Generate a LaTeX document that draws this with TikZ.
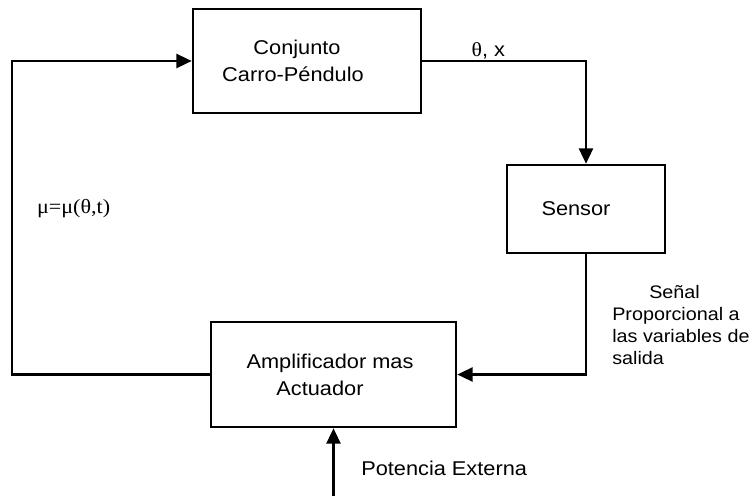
\documentclass[tikz,border=0pt]{standalone}
\usepackage{fontspec}
\setmainfont[FakeStretch=1.09]{Liberation Sans}
\newfontfamily\grk[FakeStretch=1.09]{Liberation Serif}
\usetikzlibrary{arrows.meta}

\begin{document}
\begin{tikzpicture}[line width=1.8pt,
	block/.style={draw, align=center, inner sep=0pt, font=\fontsize{14.2}{19}\selectfont},
	lbl/.style={inner sep=0pt, font=\fontsize{14.2}{19}\selectfont},
	flow/.style={-{Triangle[length=11pt, width=10pt]}, line join=miter}]
	\useasboundingbox (0, 0) rectangle (18.8, -12.4);
	\node [block, minimum width=5.7cm, minimum height=2.6cm] (plant) at (7.675, -1.525) {Conjunto\hspace*{0.5cm}\\Carro-Péndulo\hspace*{0.7cm}};
	\node [block, minimum width=3.95cm, minimum height=2.2cm] (sensor) at (14.65, -5.225) {Sensor\hspace*{0.5cm}};
	\node [block, minimum width=6.125cm, minimum height=2.625cm] (amp) at (8.3375, -9.3625) {Amplificador mas\hspace*{0.175cm}\\Actuador\hspace*{0.675cm}};
	\coordinate (left) at (0.3, 0);
	\coordinate (ext) at (8.3375, -12.4);
	\draw [flow] (plant.east) -| (sensor.north);
	\draw [flow] (sensor.south) |- (amp.east);
	\draw [flow] (amp.west) -- (amp.west -| left) |- (plant.west);
	\draw [flow] (ext) -- (amp.south);
	\node [lbl] (states) at (12.21, -1.275) {{\grk θ}, x};
	\node [lbl, font=\grk\fontsize{14.4}{19}\selectfont] (law) at (1.84, -5.225) {μ=μ(θ,t)};
	\node [lbl, anchor=west, align=left, font=\fontsize{12.9}{15.6}\selectfont] (signal) at (15.275, -8.125) {\hspace*{0.925cm}Señal\\Proporcional a\\las variables de\\salida};
	\node [lbl, anchor=west] (power) at (9.0, -11.7) {Potencia Externa};
\end{tikzpicture}
\end{document}
